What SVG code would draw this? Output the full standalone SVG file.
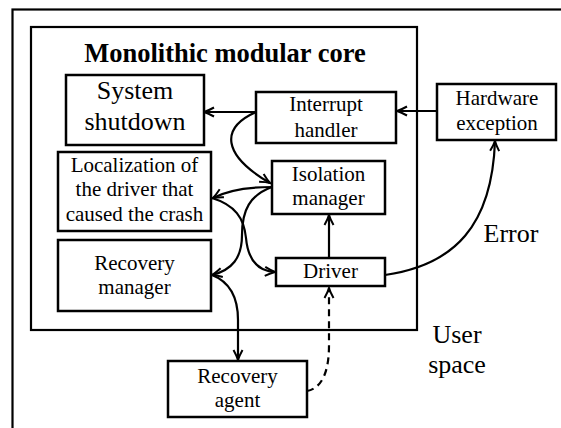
<svg xmlns="http://www.w3.org/2000/svg" width="561" height="428" viewBox="0 0 561 428">
<style>
.box{fill:#fff;stroke:#000;stroke-width:2.5}
.frame{fill:none;stroke:#000;stroke-width:2.2}
.t{font-family:"Liberation Serif","Times New Roman",serif;font-size:21px;fill:#000;text-anchor:middle}
.big{font-size:26px}
.title{font-weight:bold;font-size:26.5px}
.c{fill:none;stroke:#000;stroke-width:2.2}
.d{stroke-dasharray:7 5}
</style>
<defs>
<marker id="ah" markerWidth="14" markerHeight="12" refX="0" refY="0" viewBox="-12 -6 14 12" orient="auto" markerUnits="userSpaceOnUse">
<path d="M-10,-4.5 Q-4,-1.2 0,0 Q-4,1.2 -10,4.5" fill="none" stroke="#000" stroke-width="2"/>
</marker>
</defs>
<rect width="561" height="428" fill="#fff"/>
<g id="userspace">
<rect class="frame" x="12.5" y="9.5" width="600" height="500" stroke-width="2.5"/>
<text class="t big" x="457" y="343">User</text>
<text class="t big" x="457" y="373">space</text>
</g>
<g id="core">
<rect class="frame" x="31" y="27" width="386" height="303"/>
<text class="t title" x="225" y="62">Monolithic modular core</text>
</g>
<g id="connectors">
<path class="c" d="M437,111 L397,111" marker-end="url(#ah)"/>
<path class="c" d="M256,112 L204,112" marker-end="url(#ah)"/>
<path class="c" d="M256,112 C220,128 222,155 270,183" marker-end="url(#ah)"/>
<path class="c" d="M272,187 C250,187 228,190 213,198" marker-end="url(#ah)"/>
<path class="c" d="M272,187 C250,195 242,210 242,235 C242,258 232,270 212,275" marker-end="url(#ah)"/>
<path class="c" d="M212,198 C235,205 244,218 246,238 C248,260 258,271 275,272" marker-end="url(#ah)"/>
<path class="c" d="M329,258 L329,215" marker-end="url(#ah)"/>
<path class="c" d="M385,275 C455,265 492,225 495,141" marker-end="url(#ah)"/>
<path class="c" d="M212,275 C230,282 238,298 238,320 L238,360" marker-end="url(#ah)"/>
<path class="c d" d="M307,391 C322,388 329,372 329,345 L329,288" marker-end="url(#ah)"/>
<text class="t big" x="511" y="242">Error</text>
</g>
<g id="system-shutdown">
<rect class="box" x="66" y="75" width="138" height="70"/>
<text class="t big" x="135" y="99">System</text>
<text class="t big" x="135" y="130">shutdown</text>
</g>
<g id="interrupt-handler">
<rect class="box" x="256" y="92" width="140" height="51"/>
<text class="t" x="326" y="111">Interrupt</text>
<text class="t" x="326" y="137">handler</text>
</g>
<g id="hardware-exception">
<rect class="box" x="437" y="84" width="119" height="56"/>
<text class="t" x="497" y="105">Hardware</text>
<text class="t" x="497" y="130">exception</text>
</g>
<g id="localization">
<rect class="box" x="58" y="152" width="153" height="79"/>
<text class="t" x="134.5" y="172">Localization of</text>
<text class="t" x="134.5" y="196">the driver that</text>
<text class="t" x="134.5" y="221">caused the crash</text>
</g>
<g id="isolation-manager">
<rect class="box" x="272" y="161" width="113" height="53"/>
<text class="t" x="328.5" y="181">Isolation</text>
<text class="t" x="328.5" y="205">manager</text>
</g>
<g id="recovery-manager">
<rect class="box" x="58" y="240" width="153" height="71"/>
<text class="t" x="134.5" y="270">Recovery</text>
<text class="t" x="134.5" y="294">manager</text>
</g>
<g id="driver">
<rect class="box" x="276" y="258" width="109" height="28"/>
<text class="t" x="330.5" y="277.5">Driver</text>
</g>
<g id="recovery-agent">
<rect class="box" x="168" y="361" width="139" height="56"/>
<text class="t" x="237.5" y="383">Recovery</text>
<text class="t" x="237.5" y="407">agent</text>
</g>
</svg>
